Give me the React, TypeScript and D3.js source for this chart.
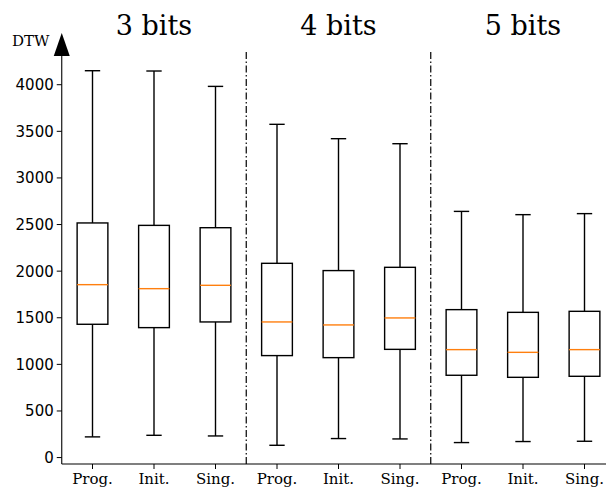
import React from 'react';
import * as d3 from 'd3';

// data
const groups = ['3 bits', '4 bits', '5 bits'];
const methods = ['Prog.', 'Init.', 'Sing.'];
const whiskerHigh = [4150, 4147, 3982, 3575, 3421, 3367, 2641, 2606, 2617];
const q3 = [2517, 2491, 2466, 2084, 2006, 2041, 1587, 1558, 1569];
const median = [1855, 1812, 1848, 1455, 1423, 1498, 1158, 1129, 1158];
const q1 = [1430, 1394, 1455, 1094, 1072, 1161, 883, 861, 872];
const whiskerLow = [222, 239, 232, 132, 204, 200, 161, 172, 175];
const yTicks = [0, 500, 1000, 1500, 2000, 2500, 3000, 3500, 4000];

const W = 606;
const H = 489;

const App = () => {
  const x = d3.scaleLinear().domain([0.5, 9.5]).range([61.75, 615.25]);
  const lo = d3.min(whiskerLow) as number;
  const hi = d3.max(whiskerHigh) as number;
  const pad = (hi - lo) * 0.05;
  const y = d3.scaleLinear().domain([lo - pad, hi + pad]).range([464, 52]);

  const boxW = x(1.5) - x(1); // box width 0.5 in data units
  const capW = boxW / 2;
  const serif = "'DejaVu Serif', serif";
  const sans = "'DejaVu Sans', sans-serif";
  const sw = 1.4;

  const boxes = whiskerHigh.map((_, i) => ({
    pos: i + 1,
    label: methods[i % methods.length],
    hi: whiskerHigh[i],
    q3: q3[i],
    med: median[i],
    q1: q1[i],
    lo: whiskerLow[i],
  }));

  const axisX = x(0.5);
  const axisY = y.range()[0];
  const topY = y.range()[1];

  return (
    <svg width={W} height={H} style={{ position: 'absolute', left: 0, top: 0, background: '#fff' }}>
      {/* group titles */}
      {groups.map((g, gi) => (
        <text key={g} x={x(gi * 3 + 2)} y={35} textAnchor="middle"
          fontFamily={serif} fontSize={27} fill="#000">{g}</text>
      ))}

      {/* group dividers */}
      {[3.5, 6.5].map(p => (
        <line key={p} x1={x(p)} x2={x(p)} y1={topY} y2={axisY}
          stroke="#000" strokeWidth={1.2} strokeDasharray="7,2.5,1.5,2.5" />
      ))}

      {/* boxes */}
      {boxes.map(b => {
        const cx = x(b.pos);
        return (
          <g key={b.pos}>
            <line x1={cx} x2={cx} y1={y(b.q3)} y2={y(b.hi)} stroke="#000" strokeWidth={sw} />
            <line x1={cx} x2={cx} y1={y(b.q1)} y2={y(b.lo)} stroke="#000" strokeWidth={sw} />
            <line x1={cx - capW / 2} x2={cx + capW / 2} y1={y(b.hi)} y2={y(b.hi)} stroke="#000" strokeWidth={sw} />
            <line x1={cx - capW / 2} x2={cx + capW / 2} y1={y(b.lo)} y2={y(b.lo)} stroke="#000" strokeWidth={sw} />
            <rect x={cx - boxW / 2} y={y(b.q3)} width={boxW} height={y(b.q1) - y(b.q3)}
              fill="none" stroke="#000" strokeWidth={sw} />
            <line x1={cx - boxW / 2} x2={cx + boxW / 2} y1={y(b.med)} y2={y(b.med)} stroke="#ff7f0e" strokeWidth={sw} />
          </g>
        );
      })}

      {/* y axis */}
      <line x1={axisX} x2={axisX} y1={axisY} y2={48} stroke="#000" strokeWidth={1.1} />
      <path d={`M${axisX},33 L${axisX - 8},56 L${axisX + 8},56 Z`} fill="#000" />
      {yTicks.map(t => (
        <g key={t}>
          <line x1={axisX - 5} x2={axisX} y1={y(t)} y2={y(t)} stroke="#000" strokeWidth={1} />
          <text x={axisX - 8} y={y(t)} dy="0.36em" textAnchor="end"
            fontFamily={sans} fontSize={15} fill="#000">{t}</text>
        </g>
      ))}
      <text x={12} y={46} fontFamily={serif} fontSize={15} fill="#000">DTW</text>

      {/* x axis */}
      <line x1={axisX} x2={W} y1={axisY} y2={axisY} stroke="#000" strokeWidth={1.1} />
      {boxes.map(b => (
        <g key={b.pos}>
          <line x1={x(b.pos)} x2={x(b.pos)} y1={axisY} y2={axisY + 5} stroke="#000" strokeWidth={1} />
          <text x={x(b.pos)} y={484} textAnchor="middle"
            fontFamily={serif} fontSize={15} fill="#000">{b.label}</text>
        </g>
      ))}
    </svg>
  );
};

export default App;
